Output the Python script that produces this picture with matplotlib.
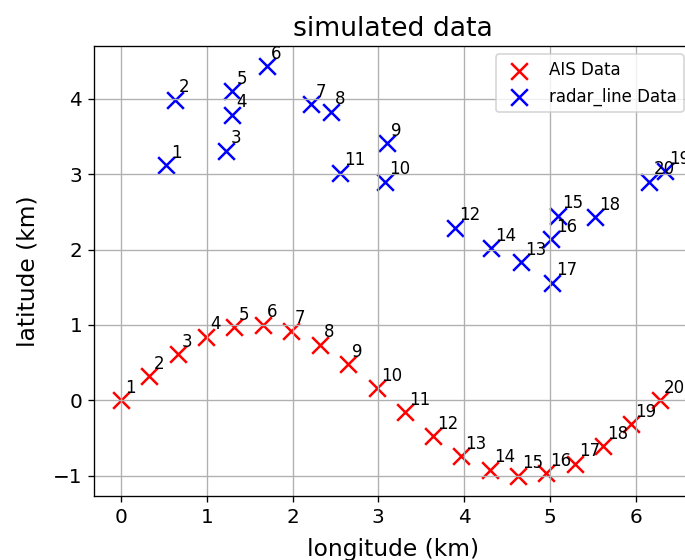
import matplotlib
matplotlib.use("Agg")
import matplotlib.pyplot as plt

# AIS track
ais_x = [0.0, 0.33, 0.66, 0.99, 1.32, 1.65, 1.98, 2.32, 2.65, 2.98,
         3.31, 3.64, 3.97, 4.30, 4.63, 4.96, 5.29, 5.62, 5.95, 6.28]
ais_y = [0.0, 0.32, 0.61, 0.84, 0.97, 1.0, 0.92, 0.74, 0.48, 0.16,
         -0.16, -0.48, -0.74, -0.92, -1.0, -0.97, -0.84, -0.61, -0.32, 0.0]

# radar points
radar_x = [0.53, 0.63, 1.23, 1.29, 1.30, 1.70, 2.22, 2.45, 3.10, 3.08,
           2.55, 3.90, 4.66, 4.32, 5.10, 5.02, 5.03, 5.53, 6.34, 6.16]
radar_y = [3.12, 3.99, 3.31, 3.79, 4.10, 4.43, 3.93, 3.83, 3.41, 2.90,
           3.02, 2.29, 1.83, 2.02, 2.45, 2.14, 1.56, 2.43, 3.04, 2.90]

fig = plt.figure(figsize=(685 / 120, 560 / 120), dpi=120)
ax = fig.add_axes([0.137, 0.114, 0.873, 0.804])

ax.scatter(ais_x, ais_y, c="red", marker="x", s=100, label="AIS Data")
ax.scatter(radar_x, radar_y, c="blue", marker="x", s=100, label="radar_line Data")

for i in range(len(ais_x)):
    ax.annotate(str(i + 1), (ais_x[i], ais_y[i]), xytext=(2.5, 4.5),
                textcoords="offset points", fontsize=10)
for i in range(len(radar_x)):
    ax.annotate(str(i + 1), (radar_x[i], radar_y[i]), xytext=(2.5, 4.5),
                textcoords="offset points", fontsize=10)

ax.set_title("simulated data", fontsize=16)
ax.set_xlabel("longitude (km)", fontsize=14, labelpad=6.5)
ax.set_ylabel("latitude (km)", fontsize=14, labelpad=8)
ax.tick_params(labelsize=12)
ax.set_xticks(range(0, 7))
ax.set_yticks(range(-1, 5))
ax.grid(True)
ax.legend(loc="upper right", fontsize=10)

fig.savefig("out.png", dpi=120)
